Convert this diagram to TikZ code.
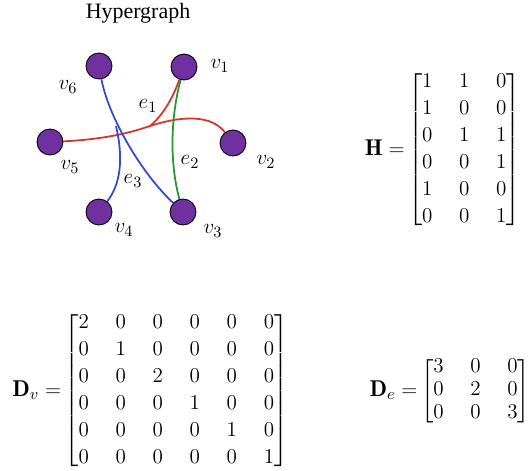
\documentclass[tikz,border=0pt]{standalone}
\usepackage{amsmath}
\usepackage{fontspec}
\newfontfamily\titlefont{Liberation Serif}
\usetikzlibrary{positioning,backgrounds}
\definecolor{VertexPurple}{RGB}{112,48,160}
\definecolor{EdgeRed}{RGB}{214,52,40}
\definecolor{EdgeGreen}{RGB}{40,150,45}
\definecolor{EdgeBlue}{RGB}{55,75,200}
\tikzset{
  vertex/.style={circle,draw=black,line width=0.5pt,fill=VertexPurple,
    minimum size=0.52cm,inner sep=0pt},
  vlabel/.style={font=\fontsize{13}{15}\selectfont,inner sep=1pt},
  elabel/.style={font=\fontsize{12.5}{15}\selectfont,inner sep=1pt},
  redge/.style={draw=EdgeRed,line width=1pt},
  gedge/.style={draw=EdgeGreen,line width=1pt},
  bedge/.style={draw=EdgeBlue,line width=1pt},
  mat/.style={font=\fontsize{13}{14.5}\selectfont,inner sep=0pt,
    execute at begin node={\delimitershortfall=7pt\delimiterfactor=900
      \setlength{\arraycolsep}{7.6pt}}}
}

\begin{document}
\begin{tikzpicture}[x=0.02cm,y=-0.02cm]
  \useasboundingbox (0,0) rectangle (529,471);
  \node[font=\titlefont\fontsize{12.5}{14}\selectfont] (title) at (138,13) {Hypergraph};
  % vertices
  \node[vertex] (v1) at (184,67) {};
  \node[vertex] (v2) at (233,143) {};
  \node[vertex] (v3) at (183,212) {};
  \node[vertex] (v4) at (99,212) {};
  \node[vertex] (v5) at (50,142) {};
  \node[vertex] (v6) at (99,66) {};
  \coordinate (j1) at (150,126);
  \coordinate (j3) at (116,126);
  % hyperedges behind the vertices
  \begin{scope}[on background layer]
  \draw[redge] (v5) .. controls (110,139) and (135,131) .. (j1)
    .. controls (168,120) and (208,110) .. (v2);
  \draw[redge] (v1) .. controls (172,100) and (162,116) .. (j1);
  \draw[gedge] (v1) .. controls (170,120) and (170,165) .. (v3);
  \draw[bedge] (v6) .. controls (108,115) and (140,172) .. (v3);
  \draw[bedge] (j3) .. controls (124,160) and (120,185) .. (v4);
  \end{scope}
  % vertex and edge labels
  \node[vlabel] (l1) at (220,66) {$v_1$};
  \node[vlabel] (l2) at (266,162) {$v_2$};
  \node[vlabel] (l3) at (213,231) {$v_3$};
  \node[vlabel] (l4) at (124,230) {$v_4$};
  \node[vlabel] (l5) at (70,167) {$v_5$};
  \node[vlabel] (l6) at (68,87) {$v_6$};
  \node[elabel] (e1) at (148,106) {$e_1$};
  \node[elabel] (e2) at (190,162) {$e_2$};
  \node[elabel] (e3) at (133,181) {$e_3$};
  % matrices
  \node[mat,anchor=east] (H) at (521,150) {%
    \renewcommand{\arraystretch}{1.06}%
    $\mathbf{H} = \mskip-2mu\begin{bmatrix}
      1&1&0\\ 1&0&0\\ 0&1&1\\ 0&0&1\\ 1&0&0\\ 0&0&1
    \end{bmatrix}$};
  \node[mat,anchor=west] (Dv) at (12,391) {%
    \renewcommand{\arraystretch}{1.06}%
    $\mathbf{D}_v = \mskip-2mu\begin{bmatrix}
      2&0&0&0&0&0\\ 0&1&0&0&0&0\\ 0&0&2&0&0&0\\
      0&0&0&1&0&0\\ 0&0&0&0&1&0\\ 0&0&0&0&0&1
    \end{bmatrix}$};
  \node[mat,anchor=east] (De) at (521,391) {%
    \renewcommand{\arraystretch}{0.9}%
    $\mathbf{D}_e = \mskip-2mu\begin{bmatrix}
      3&0&0\\ 0&2&0\\ 0&0&3
    \end{bmatrix}\mskip-8mu$};
\end{tikzpicture}
\end{document}
